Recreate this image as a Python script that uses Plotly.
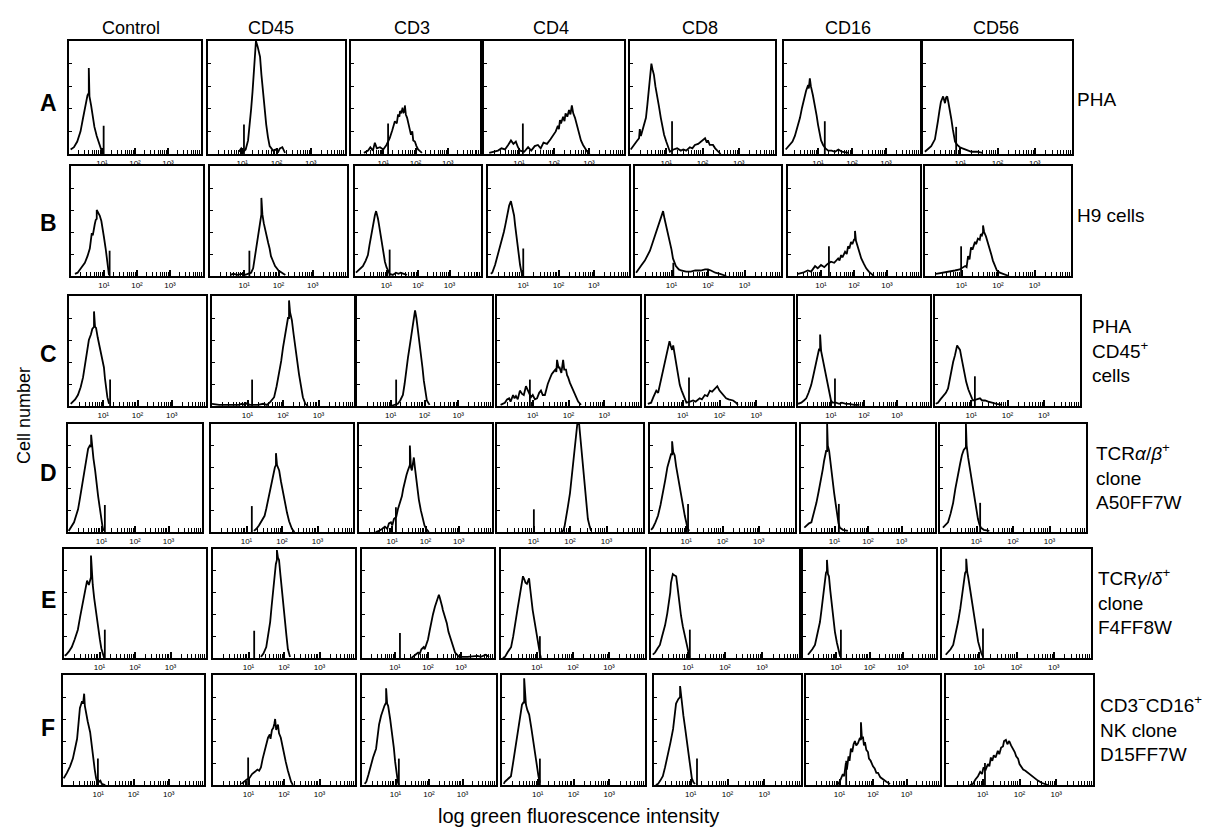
import plotly.graph_objects as go

# ---------------- data (x in log10 decades of fluorescence, y in % of panel height) -------------
ROW_LETTERS = ["A", "B", "C", "D", "E", "F"]
ANTIBODIES = ["Control", "CD45", "CD3", "CD4", "CD8", "CD16", "CD56"]
CELL_LABELS = [
    "PHA",
    "H9 cells",
    "PHA<br>CD45<sup>+</sup><br>cells",
    "TCR<i>α</i>/<i>β</i><sup>+</sup><br>clone<br>A50FF7W",
    "TCR<i>γ</i>/<i>δ</i><sup>+</sup><br>clone<br>F4FF8W",
    "CD3<sup>−</sup>CD16<sup>+</sup><br>NK clone<br>D15FF7W",
]
TICK_VALUES = [10, 100, 1000]
TICK_LABELS = ["10¹", "10²", "10³"]

CURVES_A = [
    [(0.05,4),(0.15,6),(0.25,11),(0.35,20),(0.42,31),(0.5,44),(0.56,52),(0.6,54),(0.6,76),(0.62,51),(0.67,43),(0.72,33),(0.77,24),(0.84,16),(0.9,10),(0.96,4),(1.02,0)],
    [(0.9,2),(0.97,5),(1.03,2),(1.1,4),(1.17,12),(1.22,25),(1.26,40),(1.3,55),(1.34,70),(1.37,85),(1.4,100),(1.45,95),(1.52,86),(1.56,70),(1.6,56),(1.65,40),(1.7,26),(1.75,15),(1.8,7),(1.9,3),(1.97,4),(2.05,2),(2.1,5),(2.17,6),(2.25,1)],
    [(0.4,1),(0.53,3),(0.6,6),(0.68,3),(0.74,10),(0.8,5),(0.9,6),(1.0,4),(1.1,8),(1.2,14),(1.28,21),(1.36,29),(1.42,27),(1.46,35),(1.5,33),(1.52,38),(1.56,36),(1.6,41),(1.63,37),(1.67,38),(1.67,43),(1.7,35),(1.74,32),(1.77,29),(1.82,22),(1.86,17),(1.9,20),(1.93,12),(1.98,11),(2.03,7),(2.08,4),(2.2,1)],
    [(0.15,1),(0.3,2),(0.4,3),(0.5,5),(0.6,4),(0.69,8),(0.77,12),(0.84,9),(0.91,11),(0.97,6),(1.03,3),(1.15,2),(1.26,6),(1.35,3),(1.45,7),(1.54,8),(1.62,5),(1.7,10),(1.8,9),(1.9,13),(1.97,16),(2.05,20),(2.11,25),(2.14,22),(2.17,30),(2.2,27),(2.26,33),(2.3,29),(2.33,36),(2.38,33),(2.43,39),(2.47,35),(2.51,43),(2.55,36),(2.6,32),(2.65,26),(2.69,23),(2.73,17),(2.77,12),(2.83,8),(2.89,5),(2.95,2),(3.02,0)],
    [(0.02,4),(0.08,7),(0.18,11),(0.25,14),(0.27,22),(0.3,16),(0.37,24),(0.44,32),(0.48,44),(0.52,56),(0.56,70),(0.59,80),(0.62,75),(0.66,70),(0.7,60),(0.75,52),(0.8,42),(0.85,32),(0.9,24),(0.94,17),(1.0,11),(1.05,7),(1.1,2),(1.2,4),(1.3,5),(1.4,3),(1.47,4),(1.55,3),(1.65,6),(1.72,5),(1.79,8),(1.88,9),(1.96,11),(2.02,12),(2.07,14),(2.12,10),(2.15,12),(2.2,8),(2.29,8),(2.35,5),(2.38,4),(2.5,0)],
    [(0.05,4),(0.18,8),(0.25,11),(0.32,16),(0.4,24),(0.47,32),(0.53,41),(0.59,50),(0.65,56),(0.71,61),(0.73,58),(0.76,67),(0.79,60),(0.85,52),(0.91,43),(0.96,34),(1.0,26),(1.05,18),(1.09,12),(1.15,8),(1.22,5),(1.3,3),(1.4,3),(1.5,2),(1.6,4),(1.7,2),(1.9,1)],
    [(0.05,2),(0.13,4),(0.22,7),(0.32,13),(0.36,20),(0.4,29),(0.44,38),(0.48,46),(0.54,51),(0.57,47),(0.59,45),(0.62,50),(0.65,51),(0.68,46),(0.72,40),(0.76,31),(0.8,22),(0.83,16),(0.86,11),(0.92,8),(0.99,6),(1.06,5),(1.13,4),(1.2,3),(1.3,2),(1.45,2),(1.6,1)],
]
CURVES_B = [
    [(0.12,2),(0.2,3),(0.3,7),(0.42,12),(0.5,18),(0.57,25),(0.6,32),(0.63,39),(0.66,37),(0.69,44),(0.72,47),(0.75,51),(0.78,52),(0.78,60),(0.82,58),(0.87,55),(0.92,50),(0.96,44),(1.0,35),(1.05,25),(1.08,16),(1.11,7),(1.15,1)],
    [(0.6,1),(0.68,2),(0.8,1),(0.95,2),(1.03,1),(1.2,3),(1.26,7),(1.3,15),(1.35,25),(1.4,35),(1.44,44),(1.48,52),(1.5,56),(1.5,71),(1.53,56),(1.57,48),(1.62,41),(1.66,33),(1.7,30),(1.74,25),(1.78,18),(1.82,15),(1.85,12),(1.9,9),(1.95,7),(2.0,5),(2.1,3),(2.2,1)],
    [(0.03,3),(0.15,6),(0.25,9),(0.34,14),(0.41,19),(0.46,28),(0.51,37),(0.56,45),(0.6,51),(0.63,55),(0.67,59),(0.7,56),(0.73,52),(0.76,47),(0.81,37),(0.86,28),(0.91,20),(0.95,13),(1.0,8),(1.05,5),(1.1,2),(1.2,1),(1.3,3),(1.38,2),(1.45,3),(1.55,2),(1.65,1)],
    [(0.08,2),(0.12,3),(0.2,10),(0.28,19),(0.34,26),(0.4,32),(0.45,40),(0.49,46),(0.55,56),(0.6,64),(0.65,68),(0.7,62),(0.74,55),(0.77,46),(0.8,37),(0.84,26),(0.88,16),(0.91,10),(0.94,5),(0.97,1)],
    [(0.03,3),(0.08,5),(0.18,10),(0.27,14),(0.34,19),(0.41,23),(0.48,30),(0.55,37),(0.62,44),(0.68,50),(0.73,55),(0.77,59),(0.81,52),(0.85,46),(0.9,39),(0.96,32),(1.0,24),(1.04,16),(1.08,12),(1.12,9),(1.2,6),(1.26,5),(1.4,4),(1.53,4),(1.65,5),(1.8,5),(1.92,6),(2.0,6),(2.08,5),(2.2,3),(2.33,2),(2.5,0)],
    [(0.3,2),(0.45,3),(0.6,5),(0.7,4),(0.82,9),(0.9,7),(1.0,10),(1.1,8),(1.2,11),(1.3,13),(1.4,12),(1.52,16),(1.56,14),(1.61,19),(1.65,17),(1.73,22),(1.78,20),(1.82,27),(1.86,25),(1.91,31),(1.95,29),(2.0,33),(2.03,33),(2.03,41),(2.06,32),(2.1,28),(2.16,22),(2.22,16),(2.3,11),(2.37,7),(2.45,4),(2.52,2),(2.6,0)],
    [(0.3,2),(0.5,3),(0.63,4),(0.82,5),(0.95,6),(1.1,9),(1.14,8),(1.18,18),(1.22,15),(1.26,26),(1.3,24),(1.37,31),(1.4,29),(1.45,34),(1.5,33),(1.53,38),(1.56,37),(1.59,40),(1.59,46),(1.62,40),(1.67,36),(1.72,31),(1.78,25),(1.82,19),(1.86,14),(1.92,9),(1.97,5),(2.05,3),(2.14,2),(2.3,0)],
]
CURVES_C = [
    [(0.05,2),(0.09,3),(0.18,6),(0.26,10),(0.34,17),(0.41,26),(0.45,35),(0.5,46),(0.53,53),(0.58,60),(0.64,65),(0.68,70),(0.73,72),(0.73,86),(0.76,72),(0.79,71),(0.84,62),(0.9,53),(0.96,44),(1.02,35),(1.05,25),(1.08,16),(1.12,8),(1.17,2)],
    [(0.0,2),(0.2,1),(0.75,1),(0.85,2),(0.92,1),(1.0,3),(1.05,1),(1.3,1),(1.44,2),(1.55,1),(1.65,4),(1.75,8),(1.82,18),(1.89,29),(1.95,41),(2.0,53),(2.05,64),(2.1,75),(2.14,80),(2.17,80),(2.17,96),(2.2,85),(2.25,78),(2.3,65),(2.34,53),(2.4,41),(2.45,29),(2.5,18),(2.56,8),(2.63,2),(2.7,0)],
    [(1.0,0),(1.21,2),(1.28,5),(1.36,10),(1.41,20),(1.45,32),(1.51,44),(1.57,56),(1.62,66),(1.66,75),(1.7,82),(1.72,87),(1.76,80),(1.8,71),(1.84,59),(1.89,47),(1.94,35),(1.98,23),(2.02,14),(2.07,5),(2.15,1)],
    [(0.1,1),(0.22,3),(0.28,6),(0.34,7),(0.38,4),(0.45,10),(0.49,7),(0.53,9),(0.58,6),(0.64,14),(0.7,11),(0.75,10),(0.81,18),(0.85,15),(0.9,12),(0.95,8),(1.0,10),(1.06,6),(1.12,7),(1.18,12),(1.23,14),(1.28,10),(1.34,10),(1.38,16),(1.42,20),(1.48,25),(1.53,29),(1.58,31),(1.63,33),(1.66,31),(1.68,42),(1.72,35),(1.75,35),(1.8,30),(1.85,42),(1.88,33),(1.93,33),(1.96,28),(1.99,26),(2.04,21),(2.09,17),(2.15,12),(2.2,8),(2.27,4),(2.35,1)],
    [(0.05,2),(0.14,3),(0.2,8),(0.28,14),(0.33,12),(0.38,20),(0.42,26),(0.47,33),(0.51,41),(0.55,47),(0.58,51),(0.61,55),(0.64,59),(0.67,55),(0.71,51),(0.74,55),(0.78,46),(0.83,37),(0.87,28),(0.92,19),(0.97,14),(1.01,10),(1.06,6),(1.1,3),(1.2,4),(1.28,5),(1.35,4),(1.46,7),(1.52,6),(1.6,10),(1.67,9),(1.74,14),(1.8,13),(1.88,16),(1.94,18),(2.0,14),(2.05,12),(2.1,10),(2.18,7),(2.25,6),(2.37,5),(2.45,3),(2.5,1)],
    [(0.0,2),(0.1,3),(0.18,5),(0.25,7),(0.32,12),(0.4,19),(0.46,27),(0.52,35),(0.57,41),(0.61,46),(0.64,52),(0.67,50),(0.67,65),(0.7,50),(0.76,41),(0.82,32),(0.87,24),(0.91,16),(0.96,10),(1.0,5),(1.05,3),(1.15,3),(1.25,2),(1.33,3),(1.45,2),(1.55,2),(1.7,1),(1.86,1)],
    [(0.02,2),(0.08,3),(0.15,6),(0.22,9),(0.3,12),(0.36,16),(0.4,24),(0.44,32),(0.5,40),(0.55,46),(0.58,51),(0.61,55),(0.65,53),(0.69,51),(0.73,44),(0.77,37),(0.82,29),(0.86,22),(0.92,15),(0.97,10),(1.02,7),(1.05,5),(1.15,6),(1.24,7),(1.3,5),(1.38,5),(1.47,4),(1.57,3),(1.7,2),(1.85,1)],
]
CURVES_D = [
    [(0.02,1),(0.06,3),(0.12,6),(0.18,9),(0.24,15),(0.3,21),(0.35,30),(0.4,39),(0.46,50),(0.51,60),(0.56,69),(0.6,77),(0.65,80),(0.69,79),(0.69,90),(0.72,77),(0.76,68),(0.81,57),(0.85,45),(0.9,33),(0.95,22),(0.99,12),(1.03,5),(1.06,1)],
    [(1.21,1),(1.28,3),(1.35,6),(1.43,10),(1.51,15),(1.56,22),(1.61,30),(1.67,40),(1.72,48),(1.76,54),(1.8,60),(1.83,62),(1.83,73),(1.86,62),(1.92,57),(1.97,47),(2.03,36),(2.08,27),(2.14,18),(2.2,10),(2.28,3),(2.35,0)],
    [(0.5,0),(0.6,1),(0.7,3),(0.78,5),(0.85,3),(0.9,8),(0.96,9),(1.0,6),(1.05,12),(1.12,14),(1.17,21),(1.23,27),(1.29,33),(1.33,40),(1.38,48),(1.43,53),(1.47,57),(1.5,60),(1.53,62),(1.53,80),(1.56,60),(1.59,57),(1.62,65),(1.65,69),(1.68,60),(1.71,51),(1.75,41),(1.8,30),(1.86,20),(1.92,12),(1.97,6),(2.02,3),(2.1,0)],
    [(1.75,0),(1.81,1),(1.85,5),(1.89,12),(1.94,23),(2.0,36),(2.04,50),(2.08,63),(2.12,77),(2.16,90),(2.2,100),(2.25,100),(2.29,86),(2.33,72),(2.37,55),(2.41,39),(2.45,25),(2.49,12),(2.54,5),(2.58,1)],
    [(0.03,2),(0.08,4),(0.15,9),(0.22,15),(0.29,25),(0.36,36),(0.42,48),(0.48,60),(0.52,65),(0.55,69),(0.58,72),(0.61,72),(0.61,84),(0.64,74),(0.68,71),(0.72,61),(0.77,51),(0.81,42),(0.86,33),(0.91,24),(0.96,15),(1.0,9),(1.03,4),(1.08,1)],
    [(0.1,4),(0.16,6),(0.24,8),(0.31,9),(0.38,17),(0.46,27),(0.53,38),(0.6,48),(0.65,58),(0.69,66),(0.72,70),(0.75,75),(0.78,75),(0.78,100),(0.8,80),(0.84,75),(0.87,66),(0.9,57),(0.95,46),(0.99,36),(1.04,25),(1.08,15),(1.12,8),(1.16,4),(1.25,2),(1.4,1)],
    [(0.08,4),(0.13,6),(0.22,9),(0.29,17),(0.36,27),(0.42,40),(0.49,54),(0.55,63),(0.6,71),(0.65,76),(0.7,78),(0.71,78),(0.71,100),(0.73,80),(0.77,69),(0.82,58),(0.86,48),(0.91,37),(0.96,27),(1.0,19),(1.04,12),(1.08,7),(1.12,4),(1.2,2),(1.35,1)],
]
CURVES_E = [
    [(0.02,2),(0.06,3),(0.14,6),(0.22,10),(0.3,17),(0.39,26),(0.45,37),(0.51,48),(0.56,57),(0.61,65),(0.65,71),(0.7,67),(0.73,72),(0.76,74),(0.76,94),(0.79,72),(0.81,67),(0.85,55),(0.9,42),(0.95,30),(1.01,17),(1.05,9),(1.09,3),(1.13,0)],
    [(1.35,1),(1.42,4),(1.5,10),(1.55,20),(1.61,33),(1.65,47),(1.69,61),(1.73,74),(1.77,86),(1.8,90),(1.8,99),(1.83,92),(1.86,90),(1.9,76),(1.94,61),(1.98,47),(2.03,33),(2.07,20),(2.11,8),(2.17,1)],
    [(1.5,0),(1.55,1),(1.62,3),(1.7,5),(1.75,4),(1.8,8),(1.87,10),(1.9,8),(1.95,13),(2.0,17),(2.05,25),(2.09,32),(2.15,40),(2.21,47),(2.27,53),(2.33,58),(2.36,55),(2.39,50),(2.43,47),(2.45,44),(2.48,41),(2.52,36),(2.57,32),(2.62,24),(2.7,17),(2.76,11),(2.82,5),(2.94,1),(3.2,1),(3.5,2),(3.6,1),(3.75,3),(3.85,1)],
    [(0.05,0),(0.11,1),(0.18,5),(0.28,10),(0.34,20),(0.39,32),(0.46,45),(0.53,59),(0.58,68),(0.61,75),(0.65,72),(0.68,69),(0.72,68),(0.75,71),(0.78,73),(0.81,64),(0.83,56),(0.88,44),(0.94,32),(0.99,21),(1.05,10),(1.08,4),(1.11,0)],
    [(0.05,3),(0.11,5),(0.18,9),(0.24,12),(0.3,20),(0.38,30),(0.44,41),(0.49,51),(0.52,60),(0.54,69),(0.59,77),(0.63,76),(0.68,75),(0.71,67),(0.73,60),(0.77,50),(0.81,39),(0.86,29),(0.92,19),(0.96,12),(1.0,6),(1.04,1)],
    [(0.15,3),(0.21,5),(0.28,8),(0.36,12),(0.44,22),(0.51,33),(0.56,45),(0.6,57),(0.65,68),(0.69,78),(0.72,80),(0.72,90),(0.75,77),(0.78,75),(0.82,62),(0.87,48),(0.91,36),(0.96,24),(1.02,14),(1.08,6),(1.12,1)],
    [(0.1,3),(0.16,5),(0.23,8),(0.3,12),(0.37,22),(0.43,33),(0.49,45),(0.54,57),(0.58,68),(0.62,78),(0.65,80),(0.65,91),(0.68,78),(0.7,75),(0.75,64),(0.79,54),(0.84,43),(0.88,33),(0.93,24),(0.97,15),(1.01,9),(1.05,5),(1.1,1)],
]
CURVES_F = [
    [(0.02,6),(0.06,8),(0.11,11),(0.2,17),(0.28,24),(0.34,33),(0.4,42),(0.44,56),(0.48,70),(0.51,73),(0.54,76),(0.57,74),(0.6,83),(0.62,72),(0.65,66),(0.7,58),(0.77,48),(0.81,36),(0.85,24),(0.9,14),(0.94,6),(0.98,2),(1.02,3),(1.06,4),(1.1,1),(1.2,0)],
    [(0.8,1),(0.87,3),(0.95,5),(1.02,6),(1.1,10),(1.18,12),(1.25,14),(1.3,13),(1.35,16),(1.4,24),(1.46,31),(1.5,38),(1.55,43),(1.6,46),(1.62,42),(1.66,50),(1.7,52),(1.73,56),(1.75,60),(1.78,50),(1.81,53),(1.83,55),(1.86,47),(1.91,43),(1.96,35),(2.0,28),(2.05,21),(2.11,13),(2.16,7),(2.2,3),(2.25,0)],
    [(0.08,1),(0.13,3),(0.19,9),(0.25,16),(0.33,25),(0.42,33),(0.47,44),(0.51,55),(0.57,63),(0.63,70),(0.67,72),(0.72,75),(0.72,88),(0.75,74),(0.78,72),(0.84,60),(0.9,48),(0.95,34),(0.99,21),(1.03,11),(1.07,3),(1.1,0)],
    [(0.05,1),(0.08,3),(0.15,5),(0.25,8),(0.3,18),(0.36,30),(0.42,43),(0.48,57),(0.52,66),(0.56,73),(0.6,75),(0.62,75),(0.62,97),(0.65,78),(0.67,73),(0.71,68),(0.76,64),(0.82,52),(0.87,40),(0.92,28),(0.98,16),(1.02,8),(1.06,2)],
    [(0.05,0),(0.11,1),(0.17,4),(0.24,8),(0.3,16),(0.38,27),(0.45,39),(0.52,51),(0.56,62),(0.6,74),(0.66,78),(0.71,80),(0.71,90),(0.74,80),(0.76,75),(0.8,63),(0.85,51),(0.9,39),(0.95,27),(0.99,16),(1.03,6),(1.08,2),(1.12,1)],
    [(0.9,0),(0.96,1),(1.02,4),(1.1,10),(1.14,8),(1.19,20),(1.22,14),(1.27,26),(1.3,22),(1.34,33),(1.38,30),(1.42,37),(1.46,40),(1.5,36),(1.55,38),(1.6,42),(1.64,41),(1.64,57),(1.67,42),(1.7,44),(1.73,36),(1.76,39),(1.8,32),(1.85,30),(1.88,24),(1.93,22),(2.0,17),(2.05,15),(2.1,11),(2.15,11),(2.22,7),(2.3,5),(2.4,3),(2.51,1)],
    [(0.65,0),(0.73,1),(0.8,5),(0.87,8),(0.93,12),(0.98,10),(1.02,16),(1.08,14),(1.14,19),(1.18,17),(1.22,25),(1.26,22),(1.3,27),(1.35,25),(1.41,31),(1.45,28),(1.5,34),(1.55,35),(1.58,40),(1.63,41),(1.67,37),(1.72,40),(1.77,36),(1.82,33),(1.87,30),(1.91,26),(1.96,24),(2.0,19),(2.04,17),(2.1,14),(2.16,13),(2.23,11),(2.3,9),(2.36,8),(2.42,6),(2.5,4),(2.6,2),(2.7,1),(2.77,0)],
]
# gate marker (position in decades, height in % of panel)
GATES_A = [(1.05,25),(1.05,26),(1.15,27),(1.11,27),(1.16,29),(1.2,29),(0.89,24)]
GATES_B = [(1.17,23),(1.15,23),(1.1,24),(1.0,25),(1.05,12),(1.24,27),(0.99,27)]
GATES_C = [(1.2,24),(1.13,24),(1.16,24),(0.92,24),(1.17,26),(1.12,25),(1.1,27)]
GATES_D = [(1.1,25),(1.15,24),(1.11,23),(1.01,21),(1.05,26),(1.13,26),(1.1,27)]
GATES_E = [(1.15,26),(1.16,25),(1.15,23),(1.08,20),(1.05,26),(1.14,26),(1.1,27)]
GATES_F = [(0.99,24),(0.99,25),(1.1,24),(1.06,24),(1.17,24),(1.2,22),(1.06,20)]

CURVES = [CURVES_A, CURVES_B, CURVES_C, CURVES_D, CURVES_E, CURVES_F]
GATES = [GATES_A, GATES_B, GATES_C, GATES_D, GATES_E, GATES_F]

# ---------------- layout (pixel positions of each panel box) ----------------
W, H = 1215, 827
ROW_Y = [(33, 146), (158, 268), (288, 398), (416, 524), (541, 650), (667, 777)]
ROW_COLS = [
    [(61,193),(200,337),(343,472),(476,616),(622,767),(776,912),(915,1064)],
    [(63,195),(202,339),(347,473),(480,621),(627,773),(780,912),(917,1063)],
    [(61,198),(204,346),(349,484),(489,632),(638,785),(790,922),(927,1072)],
    [(60,194),(203,345),(351,484),(489,635),(642,787),(793,927),(932,1078)],
    [(56,198),(205,347),(354,486),(493,637),(643,791),(795,928),(934,1083)],
    [(55,196),(205,347),(354,488),(494,637),(646,793),(798,932),(938,1085)],
]
HEADER_X = [123, 263, 404, 543, 692, 840, 988]
LETTER_Y = [95, 215, 346, 465, 592, 720]
LABEL_POS = [(1067, 92), (1067, 207), (1082, 343), (1086, 468), (1088, 593), (1090, 720)]
MINOR_TICKS = [m * 10 ** d for d in range(4) for m in range(2, 10)]

FONT = "Liberation Sans, Arial, sans-serif"

fig = go.Figure()
layout = {}
k = 0
for r in range(6):
    top, bot = ROW_Y[r]
    for c in range(7):
        k += 1
        x0, x1 = ROW_COLS[r][c]
        xa = "x" if k == 1 else f"x{k}"
        ya = "y" if k == 1 else f"y{k}"
        pts = CURVES[r][c]
        fig.add_trace(go.Scatter(
            x=[10 ** p[0] for p in pts], y=[p[1] for p in pts],
            mode="lines", line=dict(color="black", width=1.8),
            xaxis=xa, yaxis=ya, showlegend=False, hoverinfo="skip"))
        gx, gh = GATES[r][c]
        fig.add_trace(go.Scatter(
            x=[10 ** gx, 10 ** gx], y=[0, gh],
            mode="lines", line=dict(color="black", width=1.8),
            xaxis=xa, yaxis=ya, showlegend=False, hoverinfo="skip"))
        layout["xaxis" if k == 1 else f"xaxis{k}"] = dict(
            domain=[x0 / W, x1 / W], anchor=ya, type="log", range=[0, 4],
            showline=True, linewidth=2, linecolor="black", mirror=True,
            showgrid=False, zeroline=False,
            tickmode="array", tickvals=TICK_VALUES, ticktext=TICK_LABELS,
            ticks="inside", ticklen=6, tickwidth=1.5, tickcolor="black",
            tickfont=dict(size=8, family=FONT, color="black"),
            minor=dict(tickmode="array", tickvals=MINOR_TICKS, ticks="inside",
                       ticklen=4, tickwidth=1.2, tickcolor="black", showgrid=False),
            fixedrange=True)
        layout["yaxis" if k == 1 else f"yaxis{k}"] = dict(
            domain=[1 - bot / H, 1 - top / H], anchor=xa, range=[0, 100],
            showline=True, linewidth=2, linecolor="black", mirror=True,
            showgrid=False, zeroline=False, showticklabels=False,
            tickmode="array", tickvals=[20, 40, 60, 80, 100],
            ticks="inside", ticklen=3, tickwidth=1.2, tickcolor="black",
            fixedrange=True)

ann = []
for c, name in enumerate(ANTIBODIES):
    ann.append(dict(x=HEADER_X[c] / W, y=1 - 20 / H, xref="paper", yref="paper",
                    text=name, showarrow=False, xanchor="center", yanchor="middle",
                    font=dict(size=18, family=FONT, color="black")))
for r, letter in enumerate(ROW_LETTERS):
    ann.append(dict(x=40 / W, y=1 - LETTER_Y[r] / H, xref="paper", yref="paper",
                    text=f"<b>{letter}</b>", showarrow=False, xanchor="center", yanchor="middle",
                    font=dict(size=23, family=FONT, color="black")))
    lx, ly = LABEL_POS[r]
    ann.append(dict(x=lx / W, y=1 - ly / H, xref="paper", yref="paper",
                    text=CELL_LABELS[r], showarrow=False, xanchor="left", yanchor="middle",
                    align="left", font=dict(size=19, family=FONT, color="black")))
ann.append(dict(x=16 / W, y=1 - 408 / H, xref="paper", yref="paper", text="Cell number",
                textangle=-90, showarrow=False, xanchor="center", yanchor="middle",
                font=dict(size=18, family=FONT, color="black")))
ann.append(dict(x=570 / W, y=1 - 808 / H, xref="paper", yref="paper",
                text="log green fluorescence intensity", showarrow=False,
                xanchor="center", yanchor="middle",
                font=dict(size=20, family=FONT, color="black")))

fig.update_layout(**layout)
fig.update_layout(width=W, height=H, margin=dict(l=0, r=0, t=0, b=0),
                  paper_bgcolor="white", plot_bgcolor="white",
                  annotations=ann, showlegend=False)
fig.write_html("out.html")
